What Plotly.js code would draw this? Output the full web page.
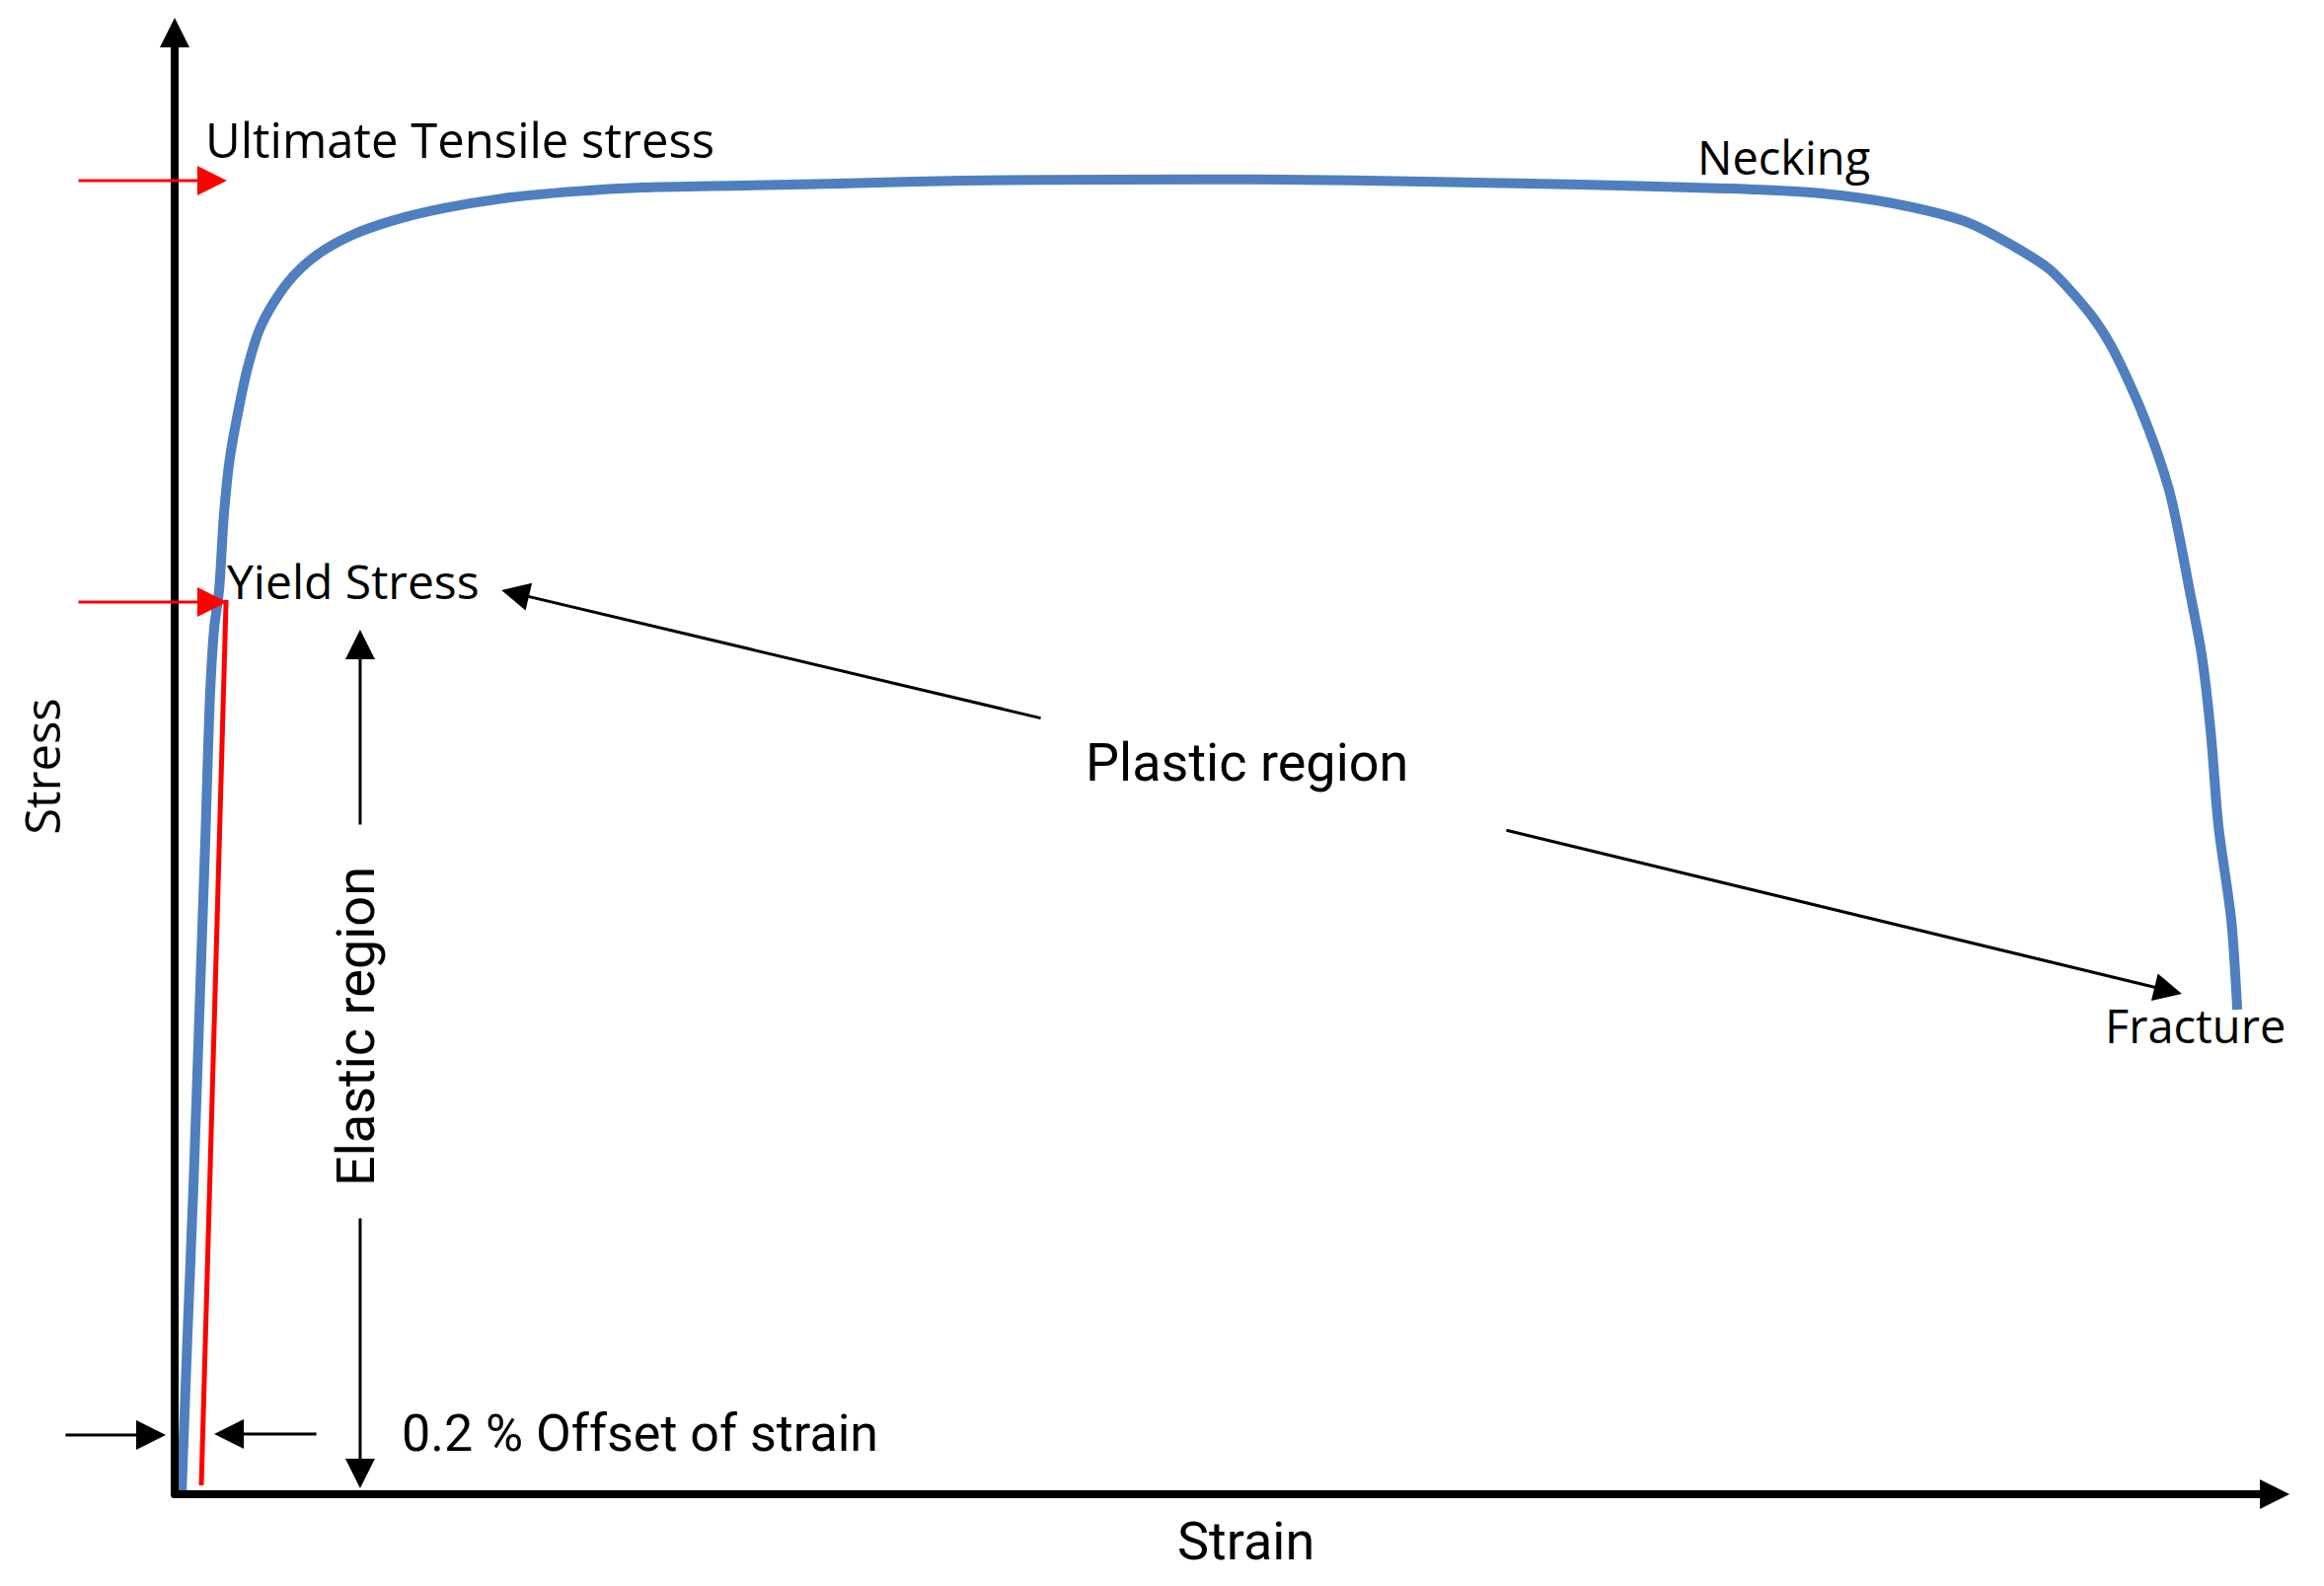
<!DOCTYPE html>
<html>
<head>
<meta charset="utf-8">
<script src="https://cdn.plot.ly/plotly-3.0.1.min.js"></script>
<style>
  html, body { margin: 0; padding: 0; background: #fff; }
  #chart { width: 2355px; height: 1607px; }
</style>
</head>
<body>
<div id="chart"></div>
<script>
// stress-strain curve (arbitrary units, origin at the axes corner)
const strain = [0.33, 0.61, 0.89, 1.21, 1.45, 1.68, 1.87, 2.10, 2.33, 2.61, 3.03, 3.41, 4.01, 4.67,
  5.60, 6.81, 8.40, 10.41, 12.74, 15.87, 18.95, 22.07, 26.88, 31.40, 37.28, 44.75, 52.40, 59.03,
  66.40, 73.31, 77.88, 81.24, 84.74, 87.07, 88.66, 90.57, 91.55, 92.95, 94.31, 95.29, 95.85,
  96.27, 96.64, 97.25, 97.53];
const stress = [0.20, 10.96, 20.99, 34.36, 44.39, 54.41, 58.69, 61.23, 66.38, 70.19, 73.53, 76.07,
  78.88, 80.68, 82.49, 84.02, 85.29, 86.30, 87.10, 87.83, 88.24, 88.50, 88.64, 88.77, 88.97,
  89.04, 89.04, 88.90, 88.70, 88.44, 88.10, 87.43, 86.16, 84.43, 82.95, 79.95, 77.81, 73.53,
  67.98, 61.10, 56.82, 51.67, 45.25, 38.84, 32.82];

// 0.2 % offset line
const offsetStrain = [1.26, 2.43];
const offsetStress = [0.6, 60.56];

const ultimateStress = 88.97;
const yieldStress = 60.43;
const axisEnd = [100, 100]; // strain, stress where the axis arrows end

const BLACK = "#000000";
const RED = "#ff0000";
const BLUE = "#4f7fbf";
const wideFont = "Open Sans, Noto Sans, sans-serif";
const narrowFont = "Roboto, Liberation Sans Narrow, sans-serif";

function arrow(x, y, ax, ay, color, width, size) {
  return {
    x: x, y: y, ax: ax, ay: ay,
    xref: "x", yref: "y", axref: "x", ayref: "y",
    text: "", showarrow: true,
    arrowhead: 2, arrowsize: size, arrowwidth: width, arrowcolor: color,
  };
}

function label(text, x, y, family, size, xanchor, angle) {
  return {
    text: text, x: x, y: y, xref: "x", yref: "y",
    showarrow: false,
    xanchor: xanchor || "center", yanchor: "middle",
    textangle: angle || 0,
    font: { family: family, size: size, color: BLACK },
  };
}

const annotations = [
  // axes
  arrow(0, axisEnd[1], 0, -0.27, BLACK, 8, 0.75),
  arrow(axisEnd[0], 0, -0.2, 0, BLACK, 8, 0.75),
  // red markers for UTS and yield
  arrow(2.47, ultimateStress, -4.62, ultimateStress, RED, 3, 2),
  arrow(2.47, yieldStress, -4.62, yieldStress, RED, 3, 2),
  // plastic region pointers
  arrow(15.45, 61.23, 41.02, 52.54, BLACK, 3, 1.9),
  arrow(94.91, 33.89, 62.90, 44.99, BLACK, 3, 1.9),
  // elastic region span
  arrow(8.77, 58.56, 8.77, 45.25, BLACK, 3, 2),
  arrow(8.77, 0.40, 8.77, 18.78, BLACK, 3, 2),
  // 0.2 % offset
  arrow(-0.42, 4.01, -5.23, 4.01, BLACK, 3, 2),
  arrow(1.87, 4.08, 6.77, 4.08, BLACK, 3, 2),

  label("Ultimate Tensile stress", 1.35, 91.78, wideFont, 49, "left"),
  label("Yield Stress", 2.38, 61.83, wideFont, 48, "left"),
  label("Necking", 76.06, 90.57, wideFont, 47),
  label("Fracture", 95.52, 31.75, wideFont, 47),
  label("Plastic region", 50.68, 49.53, narrowFont, 54),
  label("0.2 % Offset of strain", 10.64, 4.14, narrowFont, 52, "left"),
  label("Elastic region", 8.54, 31.68, narrowFont, 54, "center", -90),
  label("Stress", -6.30, 49.27, wideFont, 49, "center", -90),
  label("Strain", 50.63, -3.21, narrowFont, 54),
];

const traces = [
  {
    x: strain, y: stress,
    mode: "lines", type: "scatter",
    line: { color: BLUE, width: 10, shape: "spline", smoothing: 0.8 },
    hoverinfo: "skip",
  },
  {
    x: offsetStrain, y: offsetStress,
    mode: "lines", type: "scatter",
    line: { color: RED, width: 5 },
    hoverinfo: "skip",
  },
];

const hiddenAxis = {
  showgrid: false, zeroline: false, showline: false,
  showticklabels: false, ticks: "", fixedrange: true,
};

const layout = {
  width: 2355,
  height: 1607,
  margin: { l: 0, r: 0, t: 0, b: 0 },
  paper_bgcolor: "#ffffff",
  plot_bgcolor: "#ffffff",
  showlegend: false,
  xaxis: Object.assign({ range: [-8.26, 101.63] }, hiddenAxis),
  yaxis: Object.assign({ range: [-6.22, 101.2] }, hiddenAxis),
  annotations: annotations,
};

Plotly.newPlot("chart", traces, layout, {
  displayModeBar: false,
  staticPlot: true,
});
</script>
</body>
</html>
